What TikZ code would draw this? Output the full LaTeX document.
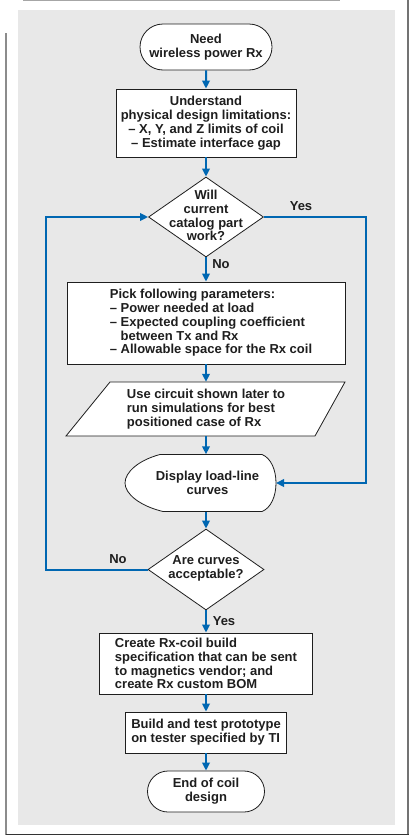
\documentclass[tikz,border=0pt]{standalone}
\usepackage{fontspec}
\setmainfont{Liberation Sans}
\usetikzlibrary{shapes.geometric,shapes.misc,arrows.meta}
\definecolor{flowblue}{RGB}{0,103,178}
\definecolor{panelgray}{RGB}{232,232,232}
\definecolor{inkc}{RGB}{30,30,30}
\begin{document}
\begin{tikzpicture}[x=1pt,y=-1pt,
  every node/.style={font=\fontsize{13}{13.8}\selectfont\bfseries, text=inkc},
  box/.style={draw=inkc, line width=0.8pt, fill=white, rectangle, inner sep=0pt},
  term/.style={draw=inkc, line width=0.8pt, fill=white, rounded rectangle, inner sep=0pt},
  dia/.style={draw=inkc, line width=0.8pt, fill=white, diamond, inner sep=0pt},
  outline/.style={draw=inkc, line width=0.8pt, fill=white},
  ghost/.style={rectangle, inner sep=0pt},
  txt/.style={align=center, inner sep=0pt},
  flow/.style={draw=flowblue, line width=2pt, -{Triangle[length=8pt,width=7.5pt]}},
  lbl/.style={inner sep=0pt},
]
\useasboundingbox (0,0) rectangle (413,838);
% frame and panel
\fill[panelgray] (18,10) rectangle (395,825);
\draw[draw=gray!70, line width=1.3pt] (23,0.7) -- (340,0.7);
\draw[draw=gray!90!black, line width=1.3pt] (408,0) -- (408,835);
\draw[draw=gray!110!black, line width=1.3pt] (6,33) -- (6,835);
\draw[draw=black!80, line width=1.5pt] (5.5,834.5) -- (408.6,834.5);

% nodes
\node[term, minimum width=132pt, minimum height=46pt, align=center] (st) at (206,47) {Need\\wireless power Rx};
\node[box, minimum width=180pt, minimum height=68pt, align=center] (b2) at (206,123) {Understand\\physical design limitations:\\– X, Y, and Z limits of coil\\– Estimate interface gap};
\node[dia, minimum width=115pt, minimum height=80pt] (d1) at (206,217) {};
\node[txt] (d1t) at (206,215.5) {Will\\current\\catalog part\\work?};
\node[box, minimum width=278pt, minimum height=82pt] (b4) at (206,323) {};
\node[txt, align=left] (b4t) at (211,323) {Pick following parameters:\\– Power needed at load\\– Expected coupling coefficient\\\hphantom{– }between Tx and Rx\\– Allowable space for the Rx coil};
\draw[outline] (110,382) -- (345,382) -- (315,436) -- (66,436) -- cycle;
\node[ghost, minimum width=200pt, minimum height=54pt, align=left] (par) at (206,409) {Use circuit shown later to\\run simulations for best\\positioned case of Rx};
\draw[outline] (160,454.5) -- (262,454.5) .. controls (271,458) and (276,470) .. (276,483)
  .. controls (276,496) and (271,508) .. (262,511.5) -- (163,511.5)
  .. controls (140,506) and (125,494) .. (125,483)
  .. controls (125,472) and (139,460) .. (160,454.5) -- cycle;
\node[ghost, minimum width=140pt, minimum height=57pt, align=center] (disp) at (206,483) {\hspace*{3pt}Display load-line\\\hspace*{3pt}curves};
\node[dia, minimum width=116pt, minimum height=81pt] (d2) at (206,569.5) {};
\node[txt] (d2t) at (206,568) {Are curves\\acceptable?};
\node[box, minimum width=213pt, minimum height=61pt, align=left] (b8) at (206,663.5) {Create Rx-coil build\\specification that can be sent\\to magnetics vendor; and\\create Rx custom BOM};
\node[box, minimum width=161pt, minimum height=41pt, align=left] (b9) at (206,732.5) {Build and test prototype\\on tester specified by TI};
\node[term, minimum width=117pt, minimum height=41pt, align=center] (en) at (206,791.5) {End of coil\\design};

% connectors
\draw[flow] (st) -- (b2);
\draw[flow] (b2) -- (d1);
\draw[flow] (d1) -- (b4);
\draw[flow] (b4) -- (par);
\draw[flow] (par) -- (disp);
\draw[flow] (disp) -- (d2);
\draw[flow] (d2) -- (b8);
\draw[flow] (b8) -- (b9);
\draw[flow] (b9) -- (en);
\coordinate (lc) at (46,569.5);
\coordinate (rc) at (366,217);
\coordinate (de) at (276,483);
\draw[flow] (d2.west) -- (lc) |- (d1.west);
\draw[flow] (d1.east) -- (rc) |- (de);

% labels
\node[lbl] (yes1) at (301,206) {Yes};
\node[lbl] (no1) at (221,264) {No};
\node[lbl] (no2) at (118,559) {No};
\node[lbl] (yes2) at (224,621) {Yes};
\end{tikzpicture}
\end{document}
